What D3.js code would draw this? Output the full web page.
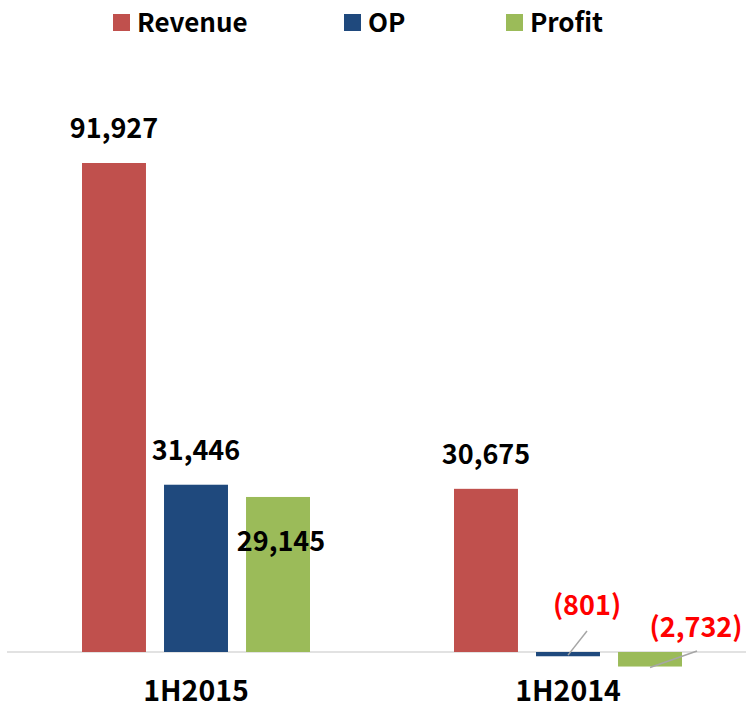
<!DOCTYPE html>
<html>
<head>
<meta charset="utf-8">
<script src="https://cdn.jsdelivr.net/npm/d3@7"></script>
<style>
  body { margin: 0; background: #fff; }
  svg { display: block; font-family: "Noto Sans CJK KR", "Noto Sans", sans-serif; font-weight: bold; }
</style>
</head>
<body>
<svg width="746" height="709"></svg>
<script>
// data
const periods = ["1H2015", "1H2014"];
const series = ["Revenue", "OP", "Profit"];
const revenue = [91927, 30675];
const op = [31446, -801];
const profit = [29145, -2732];

const colors = { Revenue: "#C0504D", OP: "#1F497D", Profit: "#9BBB59" };

const svg = d3.select("svg"),
  width = +svg.attr("width"),
  height = +svg.attr("height");

const fmt = v => v < 0 ? "(" + d3.format(",")(-v) + ")" : d3.format(",")(v);

// scales
const y = d3.scaleLinear().domain([0, 91927]).range([652, 163]);
const x0 = d3.scaleBand().domain(periods).range([10, 754]);
const x1 = d3.scaleBand().domain(series).range([72, 300]).paddingInner(0.22);

const rows = [];
periods.forEach((p, i) => {
  rows.push({ period: p, key: "Revenue", value: revenue[i] });
  rows.push({ period: p, key: "OP", value: op[i] });
  rows.push({ period: p, key: "Profit", value: profit[i] });
});

// baseline
svg.append("line")
  .attr("x1", 7).attr("x2", width)
  .attr("y1", y(0)).attr("y2", y(0))
  .attr("stroke", "#D9D9D9").attr("stroke-width", 1.5);

// bars
svg.append("g")
  .selectAll("rect")
  .data(rows)
  .enter()
  .append("rect")
  .attr("x", d => x0(d.period) + x1(d.key))
  .attr("width", x1.bandwidth())
  .attr("y", d => y(Math.max(0, d.value)))
  .attr("height", d => Math.abs(y(d.value) - y(0)))
  .attr("fill", d => colors[d.key]);

// labels; the 1H2015 profit one sits on the bar, negatives get a leader line
const cx = d => x0(d.period) + x1(d.key) + x1.bandwidth() / 2;
rows.forEach(d => {
  let lx = cx(d), ly = y(d.value) - 25, col = "#000";
  if (d.period === "1H2015" && d.key === "Profit") { lx += 3; ly = y(d.value) + 54; }
  if (d.value < 0) {
    col = "#FF0000";
    let tipY = (y(0) + y(d.value)) / 2 + 1;
    let endX, endY;
    if (d.key === "OP") { endX = cx(d) + 19; endY = 631; lx = cx(d) + 19; ly = 615; }
    else { endX = cx(d) + 47; endY = 651; lx = cx(d) + 46; ly = 637; tipY = y(d.value) + 1; }
    svg.append("line")
      .attr("x1", cx(d)).attr("y1", tipY)
      .attr("x2", endX).attr("y2", endY)
      .attr("stroke", "#A6A6A6").attr("stroke-width", 1.5);
  }
  svg.append("text")
    .attr("x", lx).attr("y", ly)
    .attr("text-anchor", "middle")
    .attr("font-size", 27)
    .attr("fill", col)
    .text(fmt(d.value));
});

// category labels
svg.append("g")
  .selectAll("text")
  .data(periods)
  .enter()
  .append("text")
  .attr("x", d => x0(d) + x0.bandwidth() / 2)
  .attr("y", 701)
  .attr("text-anchor", "middle")
  .attr("font-size", 28.5)
  .text(d => d);

// legend
const legendX = [113, 344, 506];
const lg = svg.append("g")
  .selectAll("g")
  .data(series)
  .enter()
  .append("g")
  .attr("transform", (d, i) => "translate(" + legendX[i] + ",0)");
lg.append("rect")
  .attr("x", 0).attr("y", 14)
  .attr("width", 17).attr("height", 17)
  .attr("fill", d => colors[d]);
lg.append("text")
  .attr("x", 24).attr("y", 32)
  .attr("font-size", 26)
  .text(d => d);
</script>
</body>
</html>
